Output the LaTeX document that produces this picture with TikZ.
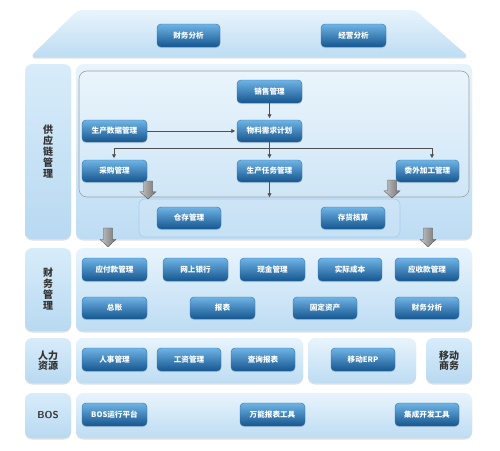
\documentclass[tikz,border=0pt]{standalone}
\usepackage{fontspec}
\newfontfamily\cjk{Noto Sans CJK SC}
\usetikzlibrary{shadows,arrows.meta}
\definecolor{btntop}{HTML}{70B3E5}
\definecolor{btnbot}{HTML}{15568F}
\definecolor{btnedge}{HTML}{2E72AE}
\definecolor{pantop}{HTML}{E8F4FC}
\definecolor{panbot}{HTML}{BDDCF3}
\definecolor{labtop}{HTML}{D8ECFA}
\definecolor{labbot}{HTML}{B8D9F1}
\definecolor{panedge}{HTML}{A9CDEA}
\definecolor{arrgray}{HTML}{505050}
\definecolor{labtext}{HTML}{333333}
\newcommand\boxat[7]{\node[#1,minimum width={#5-#3},minimum height={#6-#4}] (#2) at ({(#3+#5)/2},{(#4+#6)/2}) {#7};}
\newcommand\blockarr[3]{%
  \path[left color=gray!45,right color=gray!90!black,draw=gray!60!black,line width=0.3pt]
    (#1-4.5,#2) -- (#1+4.5,#2) -- (#1+4.5,{#2+0.6*(#3-#2)}) -- (#1+8,{#2+0.6*(#3-#2)})
    -- (#1,#3) -- (#1-8,{#2+0.6*(#3-#2)}) -- (#1-4.5,{#2+0.6*(#3-#2)}) -- cycle;}
\begin{document}
\begin{tikzpicture}[x=1pt,y=-1pt,
  btn/.style={rounded corners=4pt,top color=btntop,bottom color=btnbot,draw=btnedge,line width=0.4pt,
    text=white,font=\cjk\bfseries\fontsize{7.6}{8}\selectfont,inner sep=0pt,
    drop shadow={opacity=0.25,shadow xshift=0pt,shadow yshift=-1.2pt}},
  panel/.style={rounded corners=7pt,top color=pantop,bottom color=panbot,draw=none,inner sep=0pt,
    drop shadow={opacity=0.25,shadow xshift=0pt,shadow yshift=-1.5pt}},
  labpanel/.style={rounded corners=7pt,top color=labtop,bottom color=labbot,draw=none,inner sep=0pt,
    text=labtext,font=\cjk\bfseries\fontsize{10}{11}\selectfont,align=center,
    drop shadow={opacity=0.25,shadow xshift=0pt,shadow yshift=-1.5pt}},
  innerbox/.style={rounded corners=8pt,draw=gray!75,line width=0.6pt,fill=white,fill opacity=0.15,inner sep=0pt},
  whbox/.style={rounded corners=6pt,draw=panedge,line width=0.6pt,fill=white,fill opacity=0.12,inner sep=0pt},
  arr/.style={draw=arrgray,line width=0.7pt,shorten >=1.5pt,-{Latex[length=4pt,width=4.5pt]}},
  ln/.style={draw=arrgray,line width=0.7pt}
]
\useasboundingbox (0,0) rectangle (500,450);
% top trapezoid
\path[top color=pantop,bottom color=panbot,rounded corners=5pt,
  drop shadow={opacity=0.25,shadow xshift=0pt,shadow yshift=-1.5pt}]
  (30,57) -- (78,10) -- (415,10) -- (469,57) -- cycle;
\boxat{btn}{cwfx1}{157}{24}{220}{47}{财务分析}
\boxat{btn}{jyfx}{321}{24}{386}{47}{经营分析}
% supply chain
\boxat{labpanel}{scmlab}{25}{64}{71}{239}{供\\应\\链\\管\\理}
\boxat{panel}{scmpan}{76}{64}{472}{239}{}
\boxat{innerbox}{inner}{79}{71}{469}{197}{}
\boxat{whbox}{wh}{139}{199}{400}{237}{}
\boxat{btn}{xsgl}{237}{80}{302}{103}{销售管理}
\boxat{btn}{scsj}{82}{120}{147}{142}{生产数据管理}
\boxat{btn}{wlxq}{237}{120}{302}{142}{物料需求计划}
\boxat{btn}{cggl}{82}{160}{147}{182}{采购管理}
\boxat{btn}{scrw}{237}{160}{302}{182}{生产任务管理}
\boxat{btn}{wwjg}{396}{160}{459}{182}{委外加工管理}
\boxat{btn}{ccgl}{157}{207}{221}{229}{仓存管理}
\boxat{btn}{chhs}{321}{207}{385}{229}{存货核算}
\coordinate (hl) at (114,148);
\coordinate (hr) at (432,148);
\draw[arr] (xsgl.south) -- (wlxq.north);
\draw[arr] (scsj.east) -- (wlxq.west);
\draw[ln] (wlxq.south) -- (wlxq.south |- hl);
\draw[ln] (hl) -- (hr);
\draw[arr] (hl) -- (hl |- cggl.north);
\draw[arr] (wlxq.south |- hl) -- (scrw.north);
\draw[arr] (hr) -- (hr |- wwjg.north);
\draw[arr,shorten >=0pt] (scrw.south) -- (scrw.south |- inner.south);
\blockarr{148}{181}{199}
\blockarr{392}{180}{198}
\blockarr{108}{228}{247}
\blockarr{428}{228}{247}
% finance
\boxat{labpanel}{finlab}{25}{248}{71}{331}{财\\务\\管\\理}
\boxat{panel}{finpan}{76}{248}{472}{331}{}
\boxat{btn}{yfk}{82}{258}{147}{281}{应付款管理}
\boxat{btn}{wsyh}{163}{258}{228}{281}{网上银行}
\boxat{btn}{xjgl}{240}{258}{305}{281}{现金管理}
\boxat{btn}{sjcb}{318}{258}{382}{281}{实际成本}
\boxat{btn}{ysk}{395}{258}{459}{281}{应收款管理}
\boxat{btn}{zz}{82}{297}{147}{319}{总账}
\boxat{btn}{bb}{190}{297}{255}{319}{报表}
\boxat{btn}{gdzc}{293}{297}{357}{319}{固定资产}
\boxat{btn}{cwfx2}{395}{297}{459}{319}{财务分析}
% HR
\boxat{labpanel,font=\cjk\bfseries\fontsize{10}{10}\selectfont}{hrlab}{25}{338}{71}{383}{人力\\资源}
\boxat{panel}{hrpan}{76}{338}{303}{383}{}
\boxat{panel}{mobpan}{308}{338}{416}{383}{}
\boxat{labpanel,font=\cjk\bfseries\fontsize{10}{10}\selectfont}{moblab}{426}{338}{472}{383}{移动\\商务}
\boxat{btn}{rsgl}{82}{348}{147}{371}{人事管理}
\boxat{btn}{gzgl}{157}{348}{221}{371}{工资管理}
\boxat{btn}{cxbb}{231}{348}{295}{371}{查询报表}
\boxat{btn}{yderp}{331}{348}{395}{371}{移动ERP}
% BOS
\boxat{labpanel,font=\bfseries\sffamily\fontsize{10}{11}\selectfont}{boslab}{25}{393}{71}{438}{BOS}
\boxat{panel}{bospan}{76}{393}{472}{438}{}
\boxat{btn}{bosyx}{82}{403}{147}{426}{BOS运行平台}
\boxat{btn}{wnbb}{240}{403}{305}{426}{万能报表工具}
\boxat{btn}{jckf}{395}{403}{459}{426}{集成开发工具}
\end{tikzpicture}
\end{document}
